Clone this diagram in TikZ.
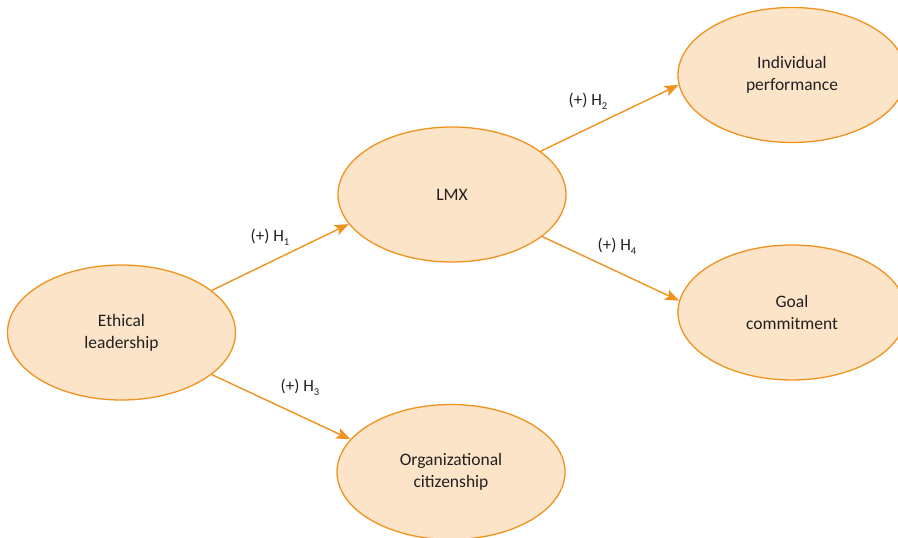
\documentclass[tikz,border=0pt]{standalone}
\usepackage{fontspec}
\setmainfont{Carlito}
\usetikzlibrary{shapes.geometric,arrows.meta}
\definecolor{fillpeach}{HTML}{FCE4C8}
\definecolor{edgeorange}{HTML}{F0921E}
\definecolor{txtgray}{HTML}{231F20}
\newcommand{\hsub}[1]{\raisebox{-4pt}{\fontsize{10.5}{11}\selectfont #1}}
\tikzset{
  construct/.style={ellipse, draw=edgeorange, fill=fillpeach, line width=1.3pt,
    minimum width=228pt, minimum height=135pt, inner sep=0pt, align=center,
    text=txtgray, font=\fontsize{17.5}{22}\selectfont},
  path/.style={draw=edgeorange, line width=1.4pt, -{Stealth[length=14pt,width=11pt,inset=3pt]}},
  hyp/.style={text=txtgray, font=\fontsize{17}{18}\selectfont, inner sep=0pt}
}
\begin{document}
\begin{tikzpicture}[x=1pt,y=-1pt]
\useasboundingbox (0,0) rectangle (898,538);
\clip (0,0) rectangle (898,538);
\node[construct] (el) at (121.5,332.5) {Ethical\\leadership};
\node[construct] (lmx) at (452,194.5) {LMX};
\node[construct] (ip) at (792,75) {Individual\\performance};
\node[construct] (gc) at (792,312.5) {Goal\\commitment};
\node[construct] (oc) at (451,472) {Organizational\\citizenship};
\draw[path] (el.25) -- (lmx.196);
\draw[path] (lmx.26) -- (ip.185);
\draw[path] (lmx.-25) -- (gc.174);
\draw[path] (el.-25) -- (oc.162);
\node[hyp] (h1) at (270,237) {(+) H\hsub{1}};
\node[hyp] (h2) at (588,101) {(+) H\hsub{2}};
\node[hyp] (h4) at (617,246) {(+) H\hsub{4}};
\node[hyp] (h3) at (300,387) {(+) H\hsub{3}};
\end{tikzpicture}
\end{document}
